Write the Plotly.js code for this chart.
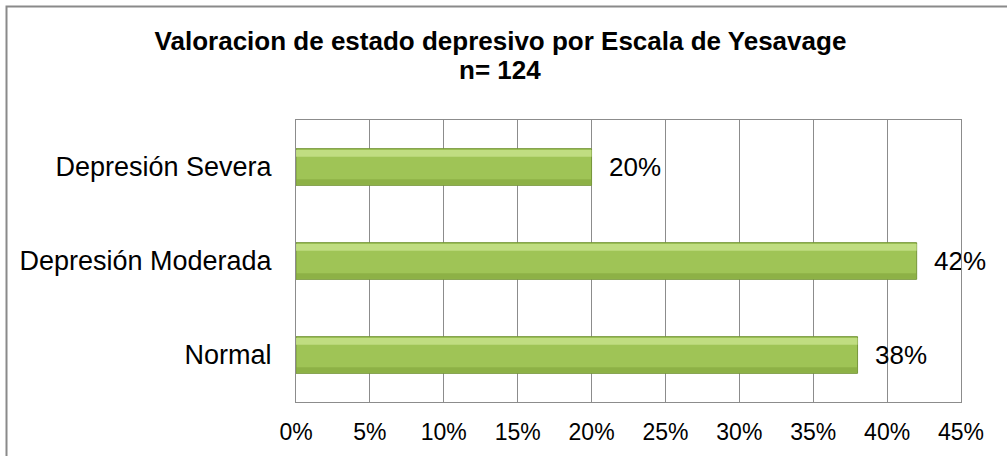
<!DOCTYPE html>
<html>
<head>
<meta charset="utf-8">
<script src="https://cdn.plot.ly/plotly-3.0.1.min.js"></script>
<style>html,body{margin:0;padding:0;background:#fff;}</style>
</head>
<body>
<div id="chart" style="width:1007px;height:456px;"></div>
<script>
const categories = ['Normal', 'Depresión Moderada', 'Depresión Severa'];
const values = [0.38, 0.42, 0.20];
const labels = ['38%', '42%', '20%'];
const tickVals = [0, 0.05, 0.10, 0.15, 0.20, 0.25, 0.30, 0.35, 0.40, 0.45];
const tickText = ['0%', '5%', '10%', '15%', '20%', '25%', '30%', '35%', '40%', '45%'];
const titleLine1 = 'Valoracion de estado depresivo por Escala de Yesavage';
const titleLine2 = 'n= 124';

const W = 1007, H = 456;
const L = 296, R = 46, T = 120, B = 54;
const pw = W - L - R, ph = H - T - B;
function px(x) { return (x - L) / pw; }
function py(y) { return (H - B - y) / ph; }
const FONT = 'Liberation Sans, Arial, sans-serif';

const main = {
  type: 'bar', orientation: 'h',
  x: values, y: categories,
  width: 0.39,
  marker: {color: '#9fc456', line: {color: '#76963a', width: 1}},
  text: labels, texttemplate: '  %{text}', textposition: 'outside',
  textfont: {family: FONT, size: 26, color: '#000'},
  cliponaxis: false,
  hoverinfo: 'skip'
};
const hiLight = {
  type: 'bar', orientation: 'h',
  x: values, y: categories,
  width: 0.07, offset: 0.11,
  marker: {color: 'rgba(200,228,140,0.8)', line: {width: 0}},
  hoverinfo: 'skip'
};
const shade = {
  type: 'bar', orientation: 'h',
  x: values, y: categories,
  width: 0.06, offset: -0.19,
  marker: {color: 'rgba(130,165,60,0.6)', line: {width: 0}},
  hoverinfo: 'skip'
};

const layout = {
  width: W, height: H,
  margin: {l: L, r: R, t: T, b: B, pad: 0},
  paper_bgcolor: '#fff', plot_bgcolor: '#fff',
  showlegend: false,
  barmode: 'overlay',
  title: {
    text: '<b>' + titleLine1 + '</b>',
    font: {family: FONT, size: 26, color: '#000'},
    x: 0.497, xref: 'container', xanchor: 'center',
    y: 1 - 41 / H, yref: 'container', yanchor: 'middle'
  },
  annotations: [{
    text: '<b>' + titleLine2 + '</b>',
    font: {family: FONT, size: 26, color: '#000'},
    xref: 'paper', yref: 'paper',
    x: px(500), y: py(70), xanchor: 'center', yanchor: 'middle',
    showarrow: false
  }],
  xaxis: {
    range: [0, 0.45],
    tickvals: tickVals, ticktext: tickText,
    showgrid: true, gridcolor: '#8c8c8c', gridwidth: 1,
    zeroline: false,
    showline: true, linecolor: '#8c8c8c', linewidth: 1, mirror: true,
    ticks: '', ticklabelstandoff: 9,
    tickfont: {family: FONT, size: 23, color: '#000'},
    fixedrange: true
  },
  yaxis: {
    categoryorder: 'array', categoryarray: categories,
    showgrid: false, zeroline: false,
    showline: true, linecolor: '#8c8c8c', linewidth: 1, mirror: true,
    ticks: '', ticklabelstandoff: 18,
    tickfont: {family: FONT, size: 27, color: '#000'},
    fixedrange: true
  },
  shapes: [{
    type: 'rect', xref: 'paper', yref: 'paper',
    x0: px(6.5), x1: px(1012), y0: py(462), y1: py(6.5),
    line: {color: '#8a8a8a', width: 2}, fillcolor: 'rgba(0,0,0,0)', layer: 'above'
  }]
};

Plotly.newPlot('chart', [main, shade, hiLight], layout, {displayModeBar: false, staticPlot: true});
</script>
</body>
</html>
